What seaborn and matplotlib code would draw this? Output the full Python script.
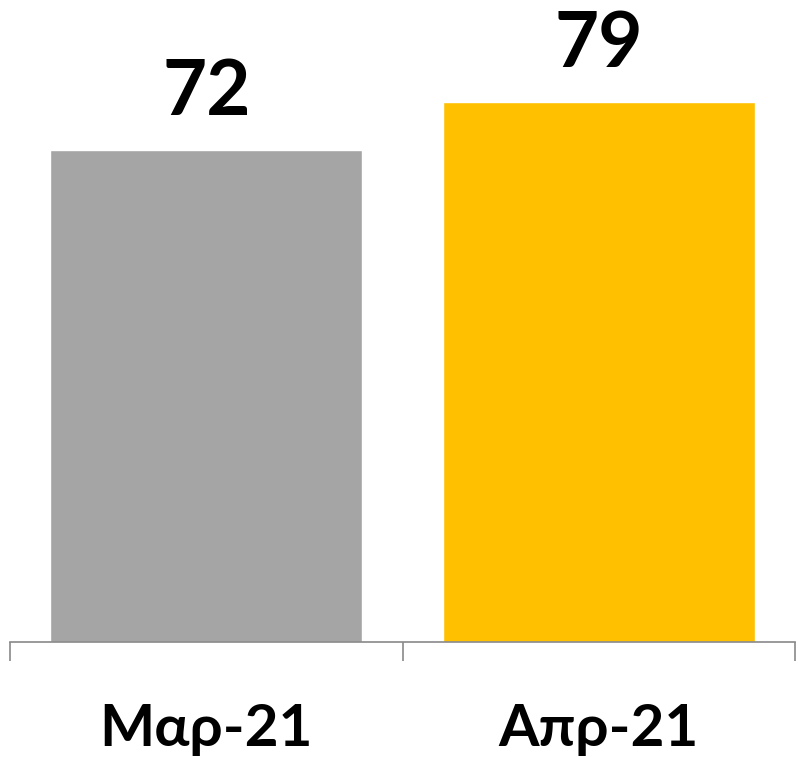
import matplotlib
matplotlib.use("Agg")
import matplotlib.pyplot as plt
import seaborn as sns
import pandas as pd

months = ["Μαρ-21", "Απρ-21"]
values = [72, 79]
colors = ["#A5A5A5", "#FFC000"]

sns.set_style("white")
plt.rcParams['font.family'] = ['Lato', 'Open Sans', 'DejaVu Sans']

df = pd.DataFrame({"month": months, "value": values})

fig = plt.figure(figsize=(7.98, 7.57), dpi=100)
ax = fig.add_axes([10 / 798, 115 / 757, 785 / 798, 642 / 757])

sns.barplot(data=df, x="month", y="value", hue="month", palette=colors,
            width=0.794, saturation=1, legend=False, ax=ax)

ax.set_xlim(-0.5, 1.5)
ax.set_ylim(0, 642 / 6.83)

# value labels above bars
for i, v in enumerate(values):
    ax.text(i, v + 3.3, str(v), ha="center", va="bottom",
            fontsize=55, fontweight="bold", color="black")

for side in ["top", "right", "left"]:
    ax.spines[side].set_visible(False)
ax.spines["bottom"].set_color("#898989")
ax.spines["bottom"].set_linewidth(1.2)

ax.set_yticks([])
ax.set_xticks([0, 1])
ax.set_xticklabels(months, fontsize=42, fontweight="bold", color="black")
ax.tick_params(axis="x", which="major", length=0, pad=44, labelcolor="black")
ax.set_xticks([-0.5, 0.5, 1.5], minor=True)
ax.tick_params(axis="x", which="minor", length=14, width=1.2,
               color="#898989", direction="out", bottom=True)
ax.set_xlabel("")
ax.set_ylabel("")

fig.savefig("out.png", dpi=100)
